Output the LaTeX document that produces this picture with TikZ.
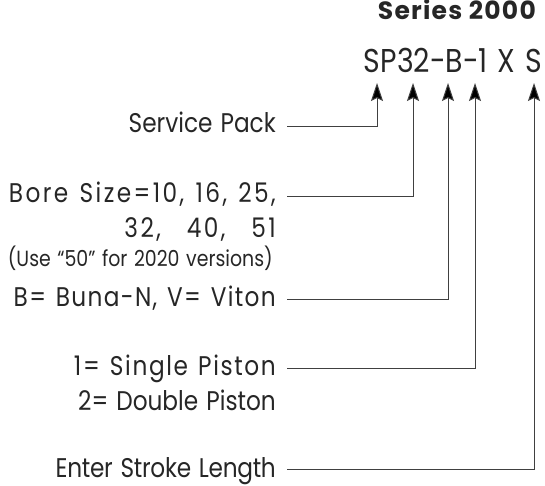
\documentclass[tikz,border=0pt]{standalone}
\usepackage{fontspec}
\setmainfont{Poppins}[FakeStretch=0.86, WordSpace=1.3]
\newfontfamily\headfont{Poppins}[LetterSpace=5]
\newfontfamily\sizesfont{Poppins}[FakeStretch=0.86, WordSpace=3, LetterSpace=9]
\usetikzlibrary{arrows.meta}

\begin{document}
\begin{tikzpicture}[
    x=1pt, y=1pt,
    label/.style={
        anchor=base east,
        inner sep=0pt,
        text=black!85,
        font=\fontsize{27}{32}\selectfont
    },
    spaced/.style={
        font=\fontsize{27}{32}\selectfont\addfontfeatures{LetterSpace=#1}
    },
    note/.style={
        anchor=base east,
        inner sep=0pt,
        text=black!85,
        font=\fontsize{22}{26}\selectfont
    },
    partcode/.style={
        anchor=base east,
        inner sep=0pt,
        text=black!85,
        font=\fontsize{33}{40}\selectfont
    },
    lead/.style={
        draw=black!75,
        line width=1pt,
        -{Stealth[length=18pt,width=12pt,inset=3pt,fill=black]}
    }
]
\useasboundingbox (0,0) rectangle (545,486);

% heading and part number
\node[partcode, font=\fontsize{25}{30}\headfont\bfseries] (series) at (536,466) {Series 2000};
\node[partcode] (code) at (542,413) {SP32-B-1 X S};

% arrow tips below the part number
\coordinate (sp_tip) at (377,403);
\coordinate (bore_tip) at (413,403);
\coordinate (seal_tip) at (448,403);
\coordinate (piston_tip) at (475,403);
\coordinate (stroke_tip) at (534,403);

% labels
\node[label] (svc_label) at (276,353) {Service Pack};
\node[label, spaced=9] (bore_label) at (276,283) {Bore Size=10, 16, 25,};
\node[label, font=\fontsize{27}{32}\sizesfont] (bore_sizes) at (276,248) {32, 40, 51};
\node[note] (bore_note) at (273,219) {(Use “50” for 2020 versions)};
\node[label, spaced=5] (seal_label) at (276,179) {B= Buna-N, V= Viton};
\node[label, spaced=6] (piston_label) at (276,110) {1= Single Piston};
\node[label] (piston_two) at (276,75) {2= Double Piston};
\node[label, spaced=-1] (stroke_label) at (276,8) {Enter Stroke Length};

\draw[lead] ([xshift=11pt,yshift=6pt]svc_label.base east) -| (sp_tip);
\draw[lead] ([xshift=11pt,yshift=6pt]bore_label.base east) -| (bore_tip);
\draw[lead] ([xshift=11pt,yshift=7pt]seal_label.base east) -| (seal_tip);
\draw[lead] ([xshift=11pt,yshift=7pt]piston_label.base east) -| (piston_tip);
\draw[lead] ([xshift=11pt,yshift=8pt]stroke_label.base east) -| (stroke_tip);

\end{tikzpicture}
\end{document}
